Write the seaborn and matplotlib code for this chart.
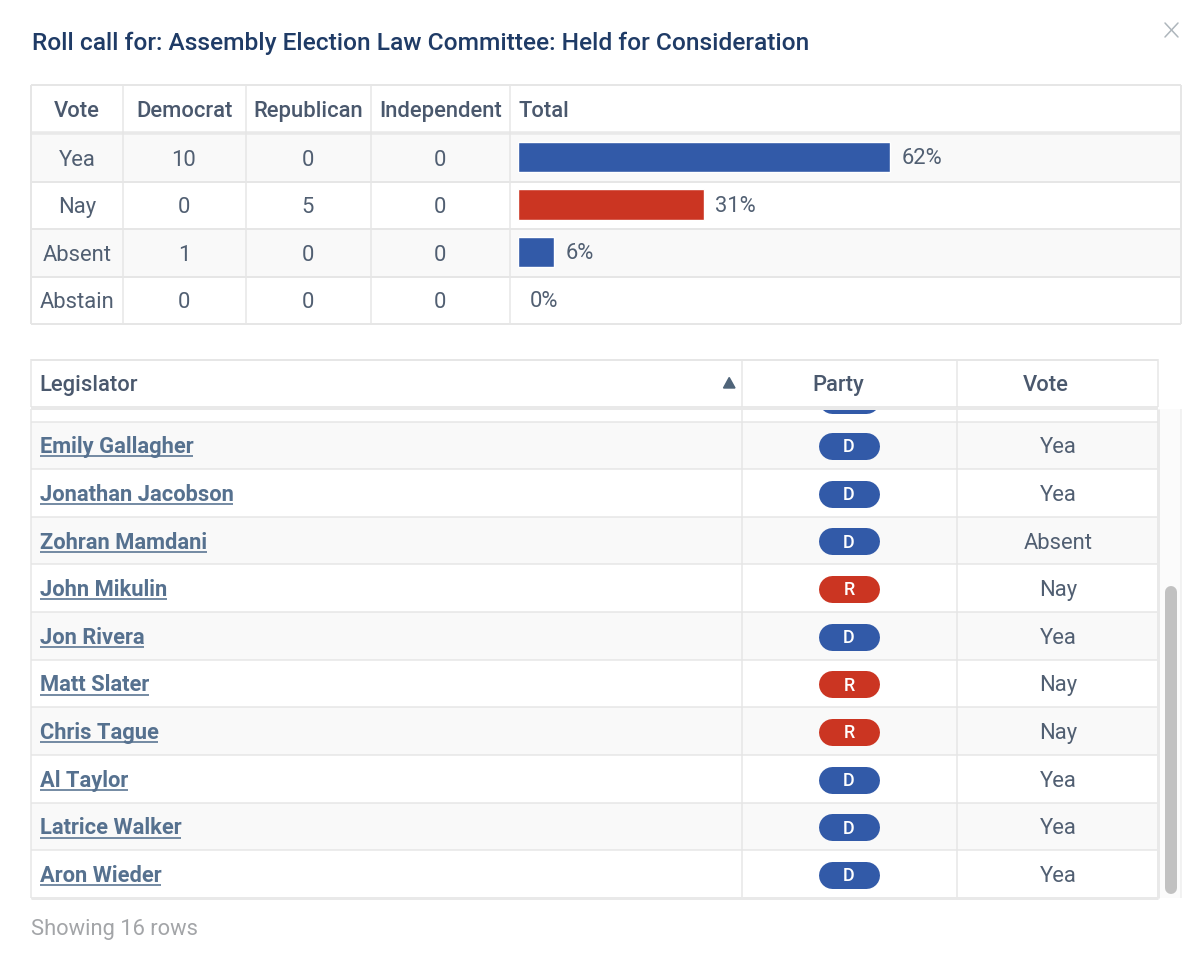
import matplotlib
matplotlib.use("Agg")
import matplotlib.pyplot as plt
from matplotlib.patches import Rectangle
import seaborn as sns
import pandas as pd

# ---- data ----
title = "Roll call for: Assembly Election Law Committee: Held for Consideration"
summary_cols = ["Vote", "Democrat", "Republican", "Independent", "Total"]
votes = ["Yea", "Nay", "Absent", "Abstain"]
dem = [10, 0, 1, 0]
rep = [0, 5, 0, 0]
ind = [0, 0, 0, 0]
pct = [62, 31, 6, 0]
vote_colors = ["#325aa8", "#cb3522", "#325aa8", "#325aa8"]

roster_cols = ["Legislator", "Party", "Vote"]
names = ["Emily Gallagher", "Jonathan Jacobson", "Zohran Mamdani", "John Mikulin", "Jon Rivera",
         "Matt Slater", "Chris Tague", "Al Taylor", "Latrice Walker", "Aron Wieder"]
parties = ["D", "D", "D", "R", "D", "R", "R", "D", "D", "D"]
cast = ["Yea", "Yea", "Absent", "Nay", "Yea", "Nay", "Nay", "Yea", "Yea", "Yea"]
footer = "Showing 16 rows"

# ---- style ----
sns.set_theme(style="white")
plt.rcParams["font.family"] = ["Roboto", "DejaVu Sans"]
TXT = "#515f72"; HEAD = "#4a586d"; LINE = "#e6e6e6"; STRIPE = "#f9f9f9"
LINK = "#56718f"; NAVY = "#1f3b66"
PX = 72 / 100  # points per pixel at dpi 100
FS = 22 * PX

fig = plt.figure(figsize=(12, 9.57), dpi=100, facecolor="white")
bg = fig.add_axes([0, 0, 1, 1])
bg.set_xlim(0, 1200); bg.set_ylim(957, 0); bg.axis("off")

def rect(x0, y0, x1, y1, c, z=1):
    bg.add_patch(Rectangle((x0, y0), x1 - x0, y1 - y0, fc=c, ec="none", zorder=z))
def hl(y, x0, x1, lw=1.5, c=LINE, z=3):
    bg.plot([x0, x1], [y, y], color=c, lw=lw * PX, solid_capstyle="butt", zorder=z)
def vl(x, y0, y1, lw=1.5, c=LINE, z=3):
    bg.plot([x, x], [y0, y1], color=c, lw=lw * PX, solid_capstyle="butt", zorder=z)
def pill(x0, x1, cy, h, c, z=4):
    # a thick line with round caps is a true stadium shape
    bg.plot([x0 + h / 2, x1 - h / 2], [cy, cy], color=c, lw=h * PX, solid_capstyle="round", zorder=z)

bg.text(32, 50, title, fontsize=24.5 * PX, color=NAVY, weight="medium", va="baseline", ha="left")
bg.plot([1165, 1178], [23, 37], color="#aeb6bc", lw=1.1, zorder=3)
bg.plot([1165, 1178], [37, 23], color="#aeb6bc", lw=1.1, zorder=3)

# ---- summary table ----
cols_x = [31, 123, 246, 371, 510, 1181]
rows_y = [134, 181.5, 229, 276.5, 324]
for i in range(4):
    if i % 2 == 0:
        rect(31, rows_y[i], 1181, rows_y[i + 1], STRIPE)
    hl(rows_y[i + 1], 31, 1181, 2)
hl(85, 31, 1181, 2)
hl(133, 31, 1181, 3.5, "#e9e9e9")
for x in cols_x:
    vl(x, 85, 324, 2 if x in (31, 1181) else 1.5)
mid = [(cols_x[i] + cols_x[i + 1]) / 2 for i in range(4)]
header_x = mid
body_x = [mid[0] + 0.3, mid[1] - 0.6, mid[2] - 0.6, mid[3] - 0.6]
for j, c in enumerate(summary_cols):
    if j < 4:
        bg.text(header_x[j], 116.8, c, fontsize=FS, color=HEAD, weight="medium", ha="center", va="baseline")
    else:
        bg.text(518.6, 116.8, c, fontsize=FS, color=HEAD, weight="medium", ha="left", va="baseline")
for i in range(4):
    yb = (rows_y[i] + rows_y[i + 1]) / 2 + 8
    for cx, v in zip(body_x, [votes[i], dem[i], rep[i], ind[i]]):
        bg.text(cx, yb, str(v), fontsize=FS, color=TXT, ha="center", va="baseline")

# bars, through seaborn and its scale: 6 pixels per percent
W, H = 1200, 957
bar_ax = fig.add_axes([518 / W, 1 - 323.4 / H, 662 / W, 190 / H])
bar_ax.patch.set_alpha(0)
df = pd.DataFrame({"vote": votes, "pct": pct})
sns.barplot(data=df, x="pct", y="vote", hue="vote", order=votes, hue_order=votes,
            palette=dict(zip(votes, vote_colors)), dodge=False, legend=False,
            width=30.5 / 47.5, saturation=1, orient="h", ax=bar_ax)
bar_ax.set_xlim(0, 662 / 6); bar_ax.set_ylim(3.5, -0.5)
bar_ax.axis("off")
for cont in bar_ax.containers:
    for t in bar_ax.bar_label(cont, fmt="%g%%", padding=11.5 * PX, fontsize=FS, color=TXT):
        t.xyann = (t.xyann[0], -1.5 * PX)

# ---- roster table ----
rx = [31, 742, 957, 1158]
row_top = 421.5
rh = 47.65
# partly scrolled row above the first visible one
pill(818.5, 879.5, 399.5, 27, "#325aa8", 2)
for i, (n, p, v) in enumerate(zip(names, parties, cast)):
    t = row_top + i * rh
    if i % 2 == 0:
        rect(31, t, 1158, t + rh, STRIPE)
    hl(t + rh, 31, 1158, 1.5)
    cy = t + rh / 2 + 0.3
    txt = bg.text(39.6, cy + 7.6, n, fontsize=21.9 * PX, color=LINK, weight="bold", ha="left", va="baseline", zorder=4)
    ext = txt.get_window_extent(fig.canvas.get_renderer())
    bg.plot([ext.x0, ext.x1], [cy + 10.8, cy + 10.8], color=LINK, lw=1.6 * PX, solid_capstyle="butt", zorder=4)
    pill(818.5, 879.5, cy + 0.5, 27, "#325aa8" if p == "D" else "#cb3522")
    bg.text(849, cy + 6.7, p, fontsize=18 * PX, color="white", weight="medium", ha="center", va="baseline", zorder=5)
    bg.text(1058, cy + 7.6, v, fontsize=FS, color=TXT, ha="center", va="baseline", zorder=4)
# column rules below header
for x in rx[:3]:
    vl(x, 409, 898, 1.5)
vl(1158, 409, 898, 3, "#e9e9e9")
hl(421.5, 31, 1158, 1.5)
hl(898, 31, 1158, 3, "#e9e9e9")
# header (hides scrolled rows)
rect(31, 359, 1158, 407, "white", 6)
hl(359.5, 31, 1158, 2, LINE, 7)
hl(407.5, 31, 1158, 4, "#e9e9e9", 7)
for x in rx:
    vl(x, 359, 407, 1.5, LINE, 7)
bg.text(39.6, 391, roster_cols[0], fontsize=FS, color=HEAD, weight="medium", ha="left", va="baseline", zorder=8)
bg.text(837.8, 391, roster_cols[1], fontsize=FS, color=HEAD, weight="medium", ha="center", va="baseline", zorder=8)
bg.text(1046, 391, roster_cols[2], fontsize=FS, color=HEAD, weight="medium", ha="center", va="baseline", zorder=8)
bg.fill([723.5, 735, 729.2], [388, 388, 377.5], color="#4f6479", zorder=8)
# scrollbar
rect(1160, 409, 1181, 898, "#fbfbfb", 2)
vl(1181, 409, 898, 1.5, "#efefef")
bg.plot([1171, 1171], [592, 888], color="#c1c1c1", lw=12 * PX, solid_capstyle="round", zorder=4)

bg.text(31, 935, footer, fontsize=21.85 * PX, color="#a3a5a8", ha="left", va="baseline")

fig.savefig("out.png", dpi=100, facecolor="white")
